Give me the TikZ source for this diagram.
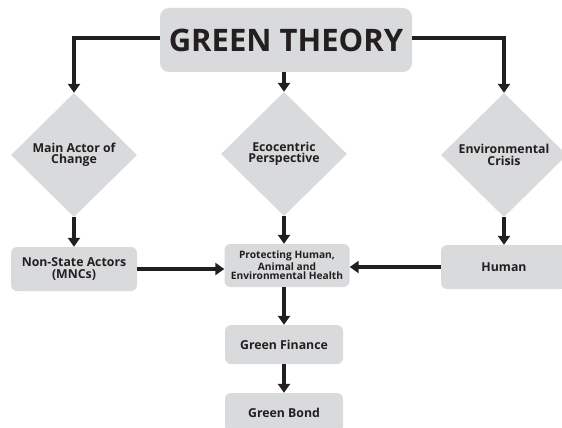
\documentclass[tikz,border=0pt]{standalone}
\usepackage{fontspec}
\setmainfont{Open Sans}
\usetikzlibrary{arrows.meta,shapes.geometric}
\definecolor{boxgray}{RGB}{217,218,220}
\definecolor{ink}{RGB}{35,31,32}

\begin{document}
\begin{tikzpicture}[x=1pt,y=-1pt,
	box/.style={fill=boxgray,rounded corners=6pt,inner sep=0pt,align=center,text=ink,font=\bfseries\fontsize{12.3}{11.5}\selectfont},
	choice/.style={diamond,fill=boxgray,inner sep=0pt,minimum width=126pt,minimum height=124pt,align=center,text=ink,font=\bfseries\fontsize{12.3}{11.5}\selectfont},
	flow/.style={line width=3.2pt,draw=ink,-{Triangle[width=12pt,length=9pt]}}]
	\useasboundingbox (0,0) rectangle (562,428);
	% top
	\node[box,minimum width=252pt,minimum height=64pt,rounded corners=9pt,font=\bfseries\fontsize{31}{31}\selectfont] (theory) at (286,40) {GREEN THEORY};
	% diamonds
	\node[choice] (actor) at (74,155) {Main Actor of\\Change};
	\node[choice] (eco) at (284,154) {Ecocentric\\Perspective};
	\node[choice] (crisis) at (504,155) {Environmental\\Crisis};
	% boxes
	\node[box,minimum width=126pt,minimum height=44pt] (nsa) at (74,269) {Non-State Actors\\(MNCs)};
	\node[box,minimum width=125pt,minimum height=43pt,font=\bfseries\fontsize{10.2}{9.6}\selectfont] (health) at (287,265.5) {Protecting Human,\\Animal and\\Environmental Health};
	\node[box,minimum width=126pt,minimum height=44pt] (human) at (504,267) {Human};
	\node[box,minimum width=118pt,minimum height=39pt] (finance) at (284,344.5) {Green Finance};
	\node[box,minimum width=118pt,minimum height=39pt] (bond) at (284,412.5) {Green Bond};
	% arrows
	\draw[flow] ([yshift=2pt]theory.west) -| (actor.north);
	\draw[flow] ([yshift=2pt]theory.east) -| (crisis.north);
	\draw[flow] (theory.south -| eco.north) -- (eco.north);
	\draw[flow] (actor.south) -- (nsa.north);
	\draw[flow] (eco.south) -- (eco.south |- health.north);
	\draw[flow] (crisis.south) -- (human.north);
	\draw[flow] (nsa.east) -- (nsa.east -| health.west);
	\draw[flow] (human.west) -- (human.west -| health.east);
	\draw[flow] (health.south -| finance.north) -- (finance.north);
	\draw[flow] (finance.south) -- (bond.north);
\end{tikzpicture}
\end{document}
